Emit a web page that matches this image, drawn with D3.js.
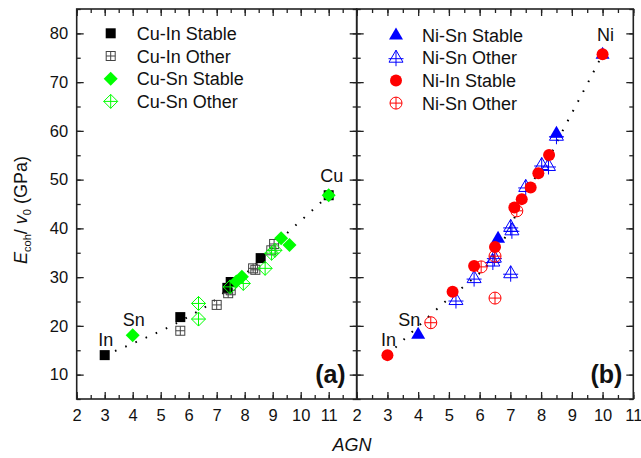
<!DOCTYPE html>
<html>
<head>
    <title>Ecoh / v0 vs AGN</title>
    <script src="https://d3js.org/d3.v7.min.js"></script>
    <style>
        * { margin: 0; padding: 0; }
        body { background: #fff; }
        svg { font-family: "Liberation Sans", Arial, sans-serif; }
    </style>
</head>
<body>
<div id="chart"></div>
<script>
    // ---- data ----
    // panel (a): Cu-In / Cu-Sn
    const cuInStable = [[3, 14.0], [5.7, 21.8], [7.38, 27.8], [7.5, 29.0], [8.57, 33.9], [11, 46.8]];
    const cuInOther = [[5.7, 19.0], [7.0, 24.3], [7.41, 26.7], [7.5, 27.3], [8.3, 31.8], [8.38, 31.5], [8.95, 35.5], [9.05, 36.8]];
    const cuSnStable = [[4, 18.1], [7.7, 29.1], [7.9, 30.1], [9.3, 38.0], [9.6, 36.6], [11, 46.8]];
    const cuSnOther = [[6.35, 24.6], [6.35, 21.4], [7.48, 28.0], [7.95, 28.7], [8.73, 31.8], [8.96, 34.9], [9.08, 35.5]];
    const fitA = [[3, 14], [3.6, 15.4], [4.4, 17.4], [5.2, 19.5], [5.9, 21.6], [6.7, 24.3], [7.5, 28], [8.5, 33.2], [9.4, 38.4], [10.2, 42.6], [11, 46.8]];

    // panel (b): Ni-Sn / Ni-In
    const niSnStable = [[4, 18.3], [6.6, 38.0], [8.5, 59.5], [10, 75.7]];
    const niSnOther = [[5.23, 25.3], [5.82, 29.8], [6.43, 33.2], [6.48, 34.0], [7.01, 30.8], [7.01, 40.3], [7.05, 39.6], [7.5, 48.5], [8.02, 53.0], [8.24, 52.8], [8.5, 59.0]];
    const niInStable = [[3, 14.0], [5.12, 27.0], [5.82, 32.3], [6.5, 36.2], [7.13, 44.3], [7.37, 46.0], [7.66, 48.4], [7.91, 51.3], [8.26, 55.05], [10, 75.7]];
    const niInOther = [[4.41, 20.65], [6.05, 32.1], [6.5, 25.7], [6.5, 34.3], [7.21, 43.6]];
    const fitB = [[3, 14], [3.4, 16.4], [4.1, 20.5], [4.85, 24.8], [5.6, 28.7], [6.3, 32.8], [6.9, 39], [7.5, 47.3], [8.3, 55], [8.65, 59.4], [9.2, 66], [9.6, 70.8], [10, 75.7]];

    const labelsA = [["In", 3, 14], ["Sn", 4, 18.1], ["Cu", 11, 46.8]];
    const labelsB = [["In", 3, 14], ["Sn", 4, 18.3], ["Ni", 10, 75.7]];
    const legendA = ["Cu-In Stable", "Cu-In Other", "Cu-Sn Stable", "Cu-Sn Other"];
    const legendB = ["Ni-Sn Stable", "Ni-Sn Other", "Ni-In Stable", "Ni-Sn Other"];
    const xTicksA = [2, 3, 4, 5, 6, 7, 8, 9, 10, 11];
    const xTicksB = [2, 3, 4, 5, 6, 7, 8, 9, 10, 11];
    const yTicks = [10, 20, 30, 40, 50, 60, 70, 80];

    const width = 641, height = 458;
    const plotTop = 9, plotBottom = 399;

    const svg = d3.select("#chart").append("svg")
        .attr("width", width)
        .attr("height", height);

    const y = d3.scaleLinear().domain([5, 85]).range([plotBottom, plotTop]);
    const xA = d3.scaleLinear().domain([2, 12]).range([76.7, 356.7]);
    const xB = d3.scaleLinear().domain([2, 11]).range([356.7, 633.3]);

    const GREEN = "#00ff00", BLUE = "#0000ff", RED = "#ff0000";

    // marker painters, drawn centred on (0,0)
    const markers = {
        sqFill: g => g.append("rect").attr("x", -5).attr("y", -5).attr("width", 10).attr("height", 10).attr("fill", "#000"),
        sqPlus: g => {
            g.append("rect").attr("x", -4.5).attr("y", -4.5).attr("width", 9).attr("height", 9)
                .attr("fill", "none").attr("stroke", "#444");
            g.append("path").attr("d", "M-4.5,0H4.5M0,-4.5V4.5").attr("stroke", "#444");
        },
        diaFill: g => g.append("path").attr("d", "M0,-7L7,0L0,7L-7,0Z").attr("fill", GREEN),
        diaPlus: g => g.append("path").attr("d", "M0,-7L7,0L0,7L-7,0ZM-7,0H7M0,-7V7")
            .attr("fill", "none").attr("stroke", GREEN),
        triFill: g => g.append("path").attr("d", "M0,-7.5L7,4.5L-7,4.5Z").attr("fill", BLUE),
        triPlus: g => g.append("path").attr("d", "M0,-7.5L7,4.5L-7,4.5ZM0,-7.5V8.5M-7.5,1H7.5")
            .attr("fill", "none").attr("stroke", BLUE),
        cirFill: g => g.append("circle").attr("r", 6).attr("fill", RED),
        cirPlus: g => {
            g.append("circle").attr("r", 6).attr("fill", "none").attr("stroke", RED);
            g.append("path").attr("d", "M-6,0H6M0,-6V6").attr("stroke", RED);
        }
    };

    function drawPanel(x, xTicks, series, fit, labels, legend, legendX, tag) {
        const [x0, x1] = x.range();
        const p = svg.append("g");

        // ticks on all four sides, pointing inward
        const minor = d3.range(x.domain()[0], x.domain()[1] + 0.01, 0.5);
        const yMinor = d3.range(5, 85.01, 5);
        const noLab = () => "";
        p.append("g").attr("transform", `translate(0,${plotBottom})`)
            .call(d3.axisBottom(x).tickValues(minor).tickSize(-4).tickFormat(noLab));
        p.append("g").attr("transform", `translate(0,${plotBottom})`)
            .call(d3.axisBottom(x).tickValues(xTicks).tickSize(-7).tickPadding(10).tickFormat(d3.format("d")));
        p.append("g").attr("transform", `translate(0,${plotTop})`)
            .call(d3.axisTop(x).tickValues(minor).tickSize(-4).tickFormat(noLab));
        p.append("g").attr("transform", `translate(0,${plotTop})`)
            .call(d3.axisTop(x).tickValues(xTicks).tickSize(-7).tickFormat(noLab));
        p.append("g").attr("transform", `translate(${x0},0)`)
            .call(d3.axisLeft(y).tickValues(yMinor).tickSize(-4).tickFormat(noLab));
        p.append("g").attr("transform", `translate(${x0},0)`)
            .call(d3.axisLeft(y).tickValues(yTicks).tickSize(-7).tickPadding(8.5)
                .tickFormat(tag === "(a)" ? d3.format("d") : noLab));
        p.append("g").attr("transform", `translate(${x1},0)`)
            .call(d3.axisRight(y).tickValues(yMinor).tickSize(-4).tickFormat(noLab));
        p.append("g").attr("transform", `translate(${x1},0)`)
            .call(d3.axisRight(y).tickValues(yTicks).tickSize(-7).tickFormat(noLab));

        p.selectAll(".domain").remove();
        p.selectAll(".tick line").attr("stroke", "#222").attr("stroke-width", 1.3);
        p.selectAll(".tick text").attr("font-size", 16.5).attr("fill", "#111")
            .attr("font-family", "Liberation Sans, Arial, sans-serif");

        p.append("rect")
            .attr("x", x0).attr("y", plotTop)
            .attr("width", x1 - x0).attr("height", plotBottom - plotTop)
            .attr("fill", "none").attr("stroke", "#222").attr("stroke-width", 1.6);

        // fitted trend
        p.append("path")
            .datum(fit)
            .attr("d", d3.line().x(d => x(d[0])).y(d => y(d[1])).curve(d3.curveMonotoneX))
            .attr("fill", "none")
            .attr("stroke", "#000")
            .attr("stroke-width", 2)
            .attr("stroke-dasharray", "1.6,9.5");

        // points
        for (const s of series) {
            p.append("g").selectAll("g")
                .data(s.data)
                .join("g")
                .attr("transform", d => `translate(${x(d[0])},${y(d[1])})`)
                .each(function () { markers[s.marker](d3.select(this)); });
        }

        // element labels
        p.append("g").selectAll("text")
            .data(labels)
            .join("text")
            .attr("x", d => x(d[1]) + (d[0] === "In" ? 1 : d[0] === "Sn" ? (tag === "(a)" ? 1 : -9) : 3))
            .attr("y", d => y(d[2]) - (d[0] === "In" ? 9 : d[0] === "Sn" ? (tag === "(a)" ? 9 : 8) : 13))
            .attr("text-anchor", "middle")
            .attr("font-size", 18)
            .attr("fill", "#111")
            .text(d => d[0]);

        // legend
        const lg = p.append("g");
        legend.forEach((name, i) => {
            const ly = (tag === "(a)" ? 33.3 : 35) + i * 22.7;
            const m = lg.append("g").attr("transform", `translate(${legendX},${ly})`);
            markers[series.find(s => s.legend === i).marker](m);
            lg.append("text")
                .attr("x", legendX + 26).attr("y", ly + 6.5)
                .attr("font-size", 18).attr("fill", "#111")
                .text(name);
        });

        p.append("text")
            .attr("x", x1 - 11).attr("y", 383)
            .attr("text-anchor", "end")
            .attr("font-size", 25).attr("font-weight", "bold").attr("fill", "#111")
            .text(tag);
    }

    drawPanel(xA, xTicksA, [
        { data: cuInOther, marker: "sqPlus", legend: 1 },
        { data: cuInStable, marker: "sqFill", legend: 0 },
        { data: cuSnOther, marker: "diaPlus", legend: 3 },
        { data: cuSnStable, marker: "diaFill", legend: 2 }
    ], fitA, labelsA, legendA, 110.7, "(a)");

    drawPanel(xB, xTicksB, [
        { data: niSnOther, marker: "triPlus", legend: 1 },
        { data: niSnStable, marker: "triFill", legend: 0 },
        { data: niInStable, marker: "cirFill", legend: 2 },
        { data: niInOther, marker: "cirPlus", legend: 3 }
    ], fitB, labelsB, legendB, 396, "(b)");

    // axis titles
    svg.append("text")
        .attr("x", 352).attr("y", 451)
        .attr("text-anchor", "middle")
        .attr("font-size", 18).attr("font-style", "italic").attr("fill", "#111")
        .text("AGN");

    const yt = svg.append("text")
        .attr("transform", "translate(27,210) rotate(-90)")
        .attr("text-anchor", "middle")
        .attr("font-size", 18).attr("fill", "#111");
    yt.append("tspan").attr("font-style", "italic").text("E");
    yt.append("tspan").attr("font-size", 11).attr("dy", 4).text("coh");
    yt.append("tspan").attr("dy", -4).text("/ ");
    yt.append("tspan").attr("font-style", "italic").text("v");
    yt.append("tspan").attr("font-size", 11).attr("dy", 4).text("0");
    yt.append("tspan").attr("dy", -4).text(" (GPa)");
</script>
</body>
</html>
